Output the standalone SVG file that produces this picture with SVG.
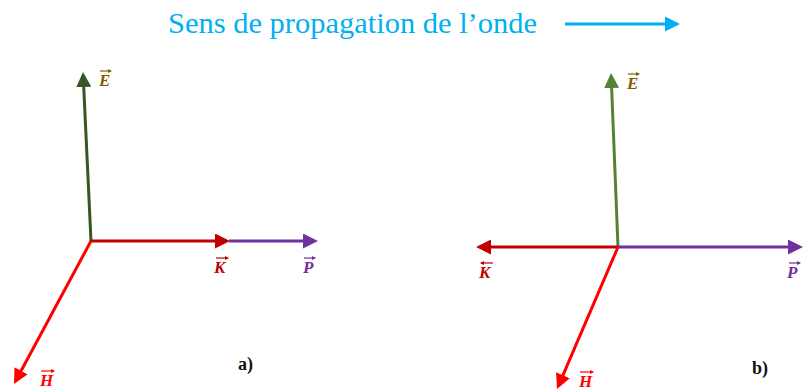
<svg xmlns="http://www.w3.org/2000/svg" width="804" height="392" viewBox="0 0 804 392">
<style>
.ln{fill:none;stroke-width:3;}
.ttl{font-family:"Liberation Serif",serif;font-size:30px;fill:#00b0f0;}
.lbl{font-family:"Liberation Serif","Times New Roman",serif;font-style:italic;font-weight:bold;font-size:17px;}
.tag{font-family:"Liberation Serif","Times New Roman",serif;font-weight:bold;font-size:18px;fill:#111;}
.ov{stroke-width:1.2;fill:none;}
</style>
<defs>
<marker id="mG1" markerUnits="userSpaceOnUse" markerWidth="15" markerHeight="15" refX="11" refY="7.5" orient="auto"><path d="M0,0 L15,7.5 L0,15 z" fill="#375623"/></marker>
<marker id="mG2" markerUnits="userSpaceOnUse" markerWidth="15" markerHeight="15" refX="11" refY="7.5" orient="auto"><path d="M0,0 L15,7.5 L0,15 z" fill="#548235"/></marker>
<marker id="mK" markerUnits="userSpaceOnUse" markerWidth="15" markerHeight="15" refX="11" refY="7.5" orient="auto"><path d="M0,0 L15,7.5 L0,15 z" fill="#c00000"/></marker>
<marker id="mP" markerUnits="userSpaceOnUse" markerWidth="15" markerHeight="15" refX="11" refY="7.5" orient="auto"><path d="M0,0 L15,7.5 L0,15 z" fill="#7030a0"/></marker>
<marker id="mH" markerUnits="userSpaceOnUse" markerWidth="15" markerHeight="15" refX="11" refY="7.5" orient="auto"><path d="M0,0 L15,7.5 L0,15 z" fill="#ff0000"/></marker>
<marker id="mB" markerUnits="userSpaceOnUse" markerWidth="15" markerHeight="15" refX="11" refY="7.5" orient="auto"><path d="M0,0 L15,7.5 L0,15 z" fill="#00b0f0"/></marker>
<marker id="ms" markerUnits="userSpaceOnUse" markerWidth="4" markerHeight="4" refX="3" refY="2" orient="auto"><path d="M0,0 L4,2 L0,4 z" fill="context-stroke"/></marker>
</defs>

<g id="title">
<text class="ttl" x="168" y="33" textLength="369" lengthAdjust="spacingAndGlyphs">Sens de propagation de l’onde</text>
</g>

<g id="connectors">
<line id="prop-arrow" class="ln" x1="565" y1="24" x2="676" y2="24" stroke="#00b0f0" marker-end="url(#mB)"/>
<line class="ln" x1="91" y1="241" x2="83.2" y2="76" stroke="#375623" marker-end="url(#mG1)"/>
<line class="ln" x1="91" y1="241" x2="226" y2="241" stroke="#c00000" marker-end="url(#mK)"/>
<line class="ln" x1="229" y1="241" x2="314" y2="241" stroke="#7030a0" marker-end="url(#mP)"/>
<line class="ln" x1="91" y1="241" x2="15.9" y2="380.5" stroke="#ff0000" marker-end="url(#mH)"/>
<line class="ln" x1="618" y1="247" x2="611.2" y2="77" stroke="#548235" marker-end="url(#mG2)"/>
<line class="ln" x1="618" y1="247" x2="480" y2="247" stroke="#c00000" marker-end="url(#mK)"/>
<line class="ln" x1="618" y1="247" x2="799" y2="247" stroke="#7030a0" marker-end="url(#mP)"/>
<line class="ln" x1="618" y1="247" x2="558.6" y2="385.3" stroke="#ff0000" marker-end="url(#mH)"/>
</g>

<g id="label-E-a">
<text class="lbl" x="99" y="86" fill="#7f6000">E</text>
<line class="ov" x1="100" y1="71" x2="111" y2="71" stroke="#7f6000" marker-end="url(#ms)"/>
</g>
<g id="label-K-a">
<text class="lbl" x="214" y="273" fill="#c00000">K</text>
<line class="ov" x1="216" y1="258" x2="228" y2="258" stroke="#c00000" marker-end="url(#ms)"/>
</g>
<g id="label-P-a">
<text class="lbl" x="303" y="273" fill="#7030a0">P</text>
<line class="ov" x1="304" y1="258" x2="315" y2="258" stroke="#7030a0" marker-end="url(#ms)"/>
</g>
<g id="label-H-a">
<text class="lbl" x="40" y="386" fill="#ff0000">H</text>
<line class="ov" x1="41" y1="371" x2="54" y2="371" stroke="#ff0000" marker-end="url(#ms)"/>
</g>
<g id="tag-a"><text class="tag" x="238" y="370">a)</text></g>

<g id="label-E-b">
<text class="lbl" x="627" y="89" fill="#7f6000">E</text>
<line class="ov" x1="628" y1="74" x2="639" y2="74" stroke="#7f6000" marker-end="url(#ms)"/>
</g>
<g id="label-K-b">
<text class="lbl" x="479" y="278" fill="#c00000">K</text>
<line class="ov" x1="493" y1="263" x2="481" y2="263" stroke="#c00000" marker-end="url(#ms)"/>
</g>
<g id="label-P-b">
<text class="lbl" x="787" y="278" fill="#7030a0">P</text>
<line class="ov" x1="789" y1="263" x2="800" y2="263" stroke="#7030a0" marker-end="url(#ms)"/>
</g>
<g id="label-H-b">
<text class="lbl" x="579" y="387" fill="#ff0000">H</text>
<line class="ov" x1="580" y1="372" x2="593" y2="372" stroke="#ff0000" marker-end="url(#ms)"/>
</g>
<g id="tag-b"><text class="tag" x="752" y="374">b)</text></g>
</svg>
